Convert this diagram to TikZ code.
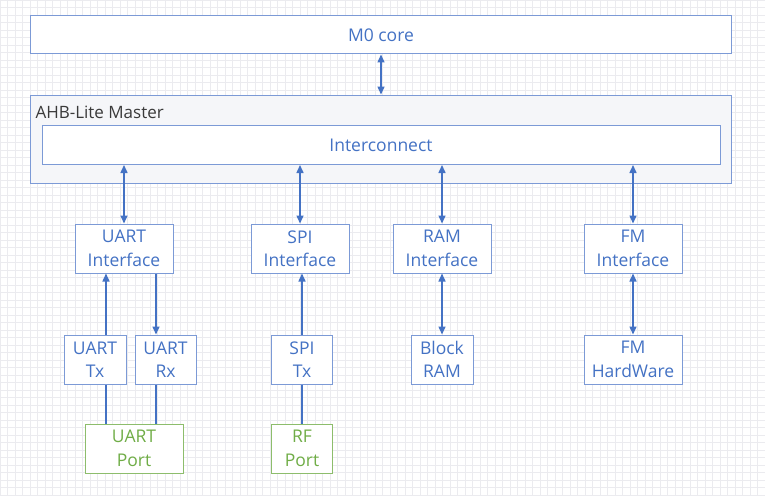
\documentclass[tikz,border=0pt]{standalone}
\usepackage{fontspec}
\setmainfont{Open Sans}
\usepackage{tikz}
\usetikzlibrary{arrows.meta,calc,positioning}
\definecolor{bdBlue}{HTML}{4472C4}
\definecolor{bdLine}{HTML}{7C9AD6}
\definecolor{bdGreen}{HTML}{70AD47}
\definecolor{bdInk}{HTML}{3A3A3A}
\definecolor{bdGrid}{HTML}{EBEBEF}
\definecolor{bdPanel}{HTML}{F5F6F9}
\tikzset{
  bdbox/.style={
    draw=bdLine,
    fill=white,
    line width=1pt,
    align=center,
    inner sep=2pt,
    text=bdBlue,
    font=\fontsize{17.5}{23.5}\selectfont
  },
  bdport/.style={
    bdbox,
    draw=bdGreen!80,
    text=bdGreen
  },
  bdarrow/.style={-{Triangle[length=8pt,width=7pt]}, line width=1.5pt, draw=bdBlue},
  bdboth/.style={{Triangle[length=8pt,width=7pt]}-{Triangle[length=8pt,width=7pt]}, line width=1.5pt, draw=bdBlue},
  bdwire/.style={line width=1.5pt, draw=bdBlue}
}

\begin{document}
\begin{tikzpicture}[x=1pt,y=-1pt]
  \useasboundingbox (0,0) rectangle (765,495);
  \fill[white] (0,0) rectangle (765,495);
  \draw[bdGrid, line width=0.5pt, step=7.5pt] (0,0) grid (765,495);

  % bus side
  \node[bdbox, minimum width=701pt, minimum height=38pt] (m0) at (381,35) {M0 core};
  \node[bdbox, fill=bdPanel, minimum width=701pt, minimum height=88pt] (ahb) at (381,139) {};
  \node[font=\fontsize{17}{18}\selectfont, text=bdInk, anchor=west] (ahblabel) at (32,112) {AHB-Lite Master};
  \node[bdbox, minimum width=678pt, minimum height=39pt] (inter) at (381,145) {Interconnect};

  % interfaces
  \node[bdbox, minimum width=98pt, minimum height=49pt] (uartif) at (124,248.5) {UART\\Interface};
  \node[bdbox, minimum width=98pt, minimum height=49pt] (spiif) at (300,248.5) {SPI\\Interface};
  \node[bdbox, minimum width=98pt, minimum height=49pt] (ramif) at (442,248.5) {RAM\\Interface};
  \node[bdbox, minimum width=98pt, minimum height=49pt] (fmif) at (633,248.5) {FM\\Interface};

  % blocks
  \node[bdbox, minimum width=62pt, minimum height=49pt] (uarttx) at (95,359.5) {UART\\Tx};
  \node[bdbox, minimum width=61pt, minimum height=49pt] (uartrx) at (165.5,359.5) {UART\\Rx};
  \node[bdbox, minimum width=61pt, minimum height=49pt] (spitx) at (302,359.5) {SPI\\Tx};
  \node[bdbox, minimum width=62pt, minimum height=49pt] (blockram) at (442,359.5) {Block\\RAM};
  \node[bdbox, minimum width=98pt, minimum height=49pt] (fmhw) at (633,359.5) {FM\\HardWare};

  % ports
  \node[bdport, minimum width=98pt, minimum height=49pt] (uartport) at (134,448.5) {UART\\Port};
  \node[bdport, minimum width=61pt, minimum height=49pt] (rfport) at (302,448.5) {RF\\Port};

  \draw[bdboth] (m0.south) -- (ahb.north);
  \draw[bdboth] (inter.south -| uartif.north) -- (uartif.north);
  \draw[bdboth] (inter.south -| spiif.north) -- (spiif.north);
  \draw[bdboth] (inter.south -| ramif.north) -- (ramif.north);
  \draw[bdboth] (inter.south -| fmif.north) -- (fmif.north);

  \draw[bdarrow] ([xshift=11pt]uarttx.north) -- ([xshift=11pt]uarttx.north |- uartif.south);
  \draw[bdarrow] ([xshift=-9.5pt]uartrx.north |- uartif.south) -- ([xshift=-9.5pt]uartrx.north);
  \draw[bdarrow] (spitx.north) -- (spitx.north |- spiif.south);
  \draw[bdboth] (ramif.south) -- (blockram.north);
  \draw[bdboth] (fmif.south) -- (fmhw.north);

  \draw[bdwire] ([xshift=11pt]uarttx.south) -- ([xshift=11pt]uarttx.south |- uartport.north);
  \draw[bdwire] ([xshift=-9.5pt]uartrx.south) -- ([xshift=-9.5pt]uartrx.south |- uartport.north);
  \draw[bdwire] (spitx.south) -- (rfport.north);
\end{tikzpicture}
\end{document}
